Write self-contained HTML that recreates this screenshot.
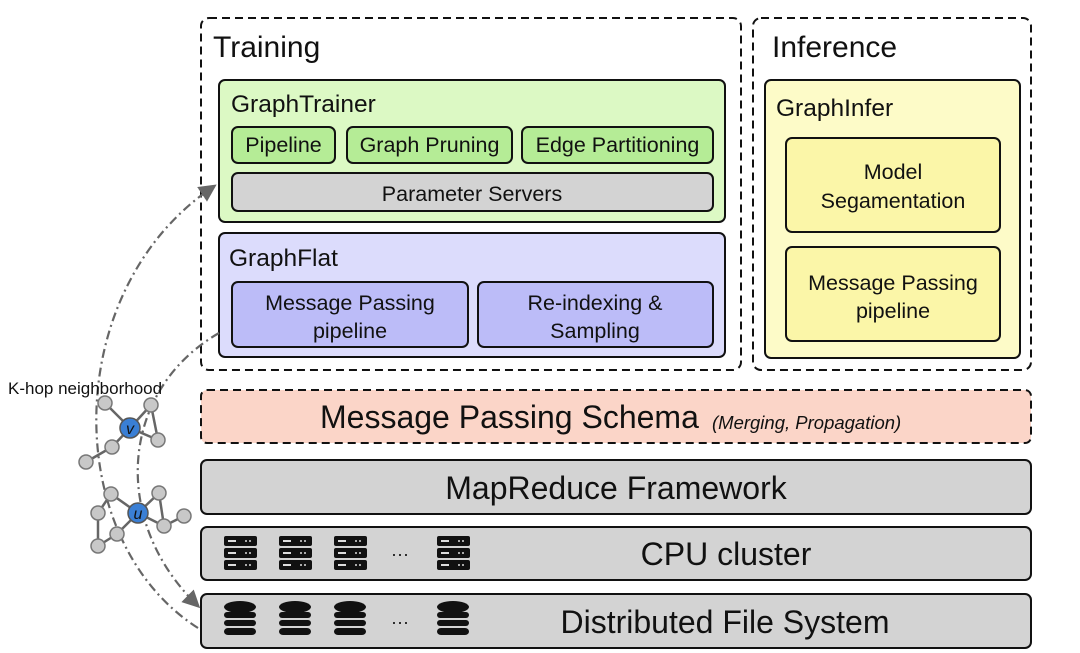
<!DOCTYPE html>
<html><head><style>body{margin:0;background:#fff}svg{display:block}text{font-family:"Liberation Sans",sans-serif;fill:#111}</style></head><body>
<svg width="1080" height="653" viewBox="0 0 1080 653">
<defs><marker id="ah" markerWidth="8" markerHeight="8" refX="6" refY="4" orient="auto"><path d="M0,0L8,4L0,8z" fill="#666"/></marker></defs>
<rect x="201" y="18" width="540" height="352" rx="8" fill="none" stroke="#111" stroke-width="2" stroke-dasharray="8,5"/>
<rect x="753" y="18" width="278" height="352" rx="8" fill="none" stroke="#111" stroke-width="2" stroke-dasharray="8,5"/>
<text x="213" y="57" font-size="30">Training</text>
<text x="772" y="57" font-size="30">Inference</text>
<rect x="219" y="80" width="506" height="142" rx="6" fill="#dcf9c4" stroke="#111" stroke-width="2"/>
<text x="231" y="112" font-size="24.5">GraphTrainer</text>
<rect x="232" y="127" width="103" height="36" rx="6" fill="#b5ec96" stroke="#111" stroke-width="2"/>
<rect x="347" y="127" width="165" height="36" rx="6" fill="#b5ec96" stroke="#111" stroke-width="2"/>
<rect x="522" y="127" width="191" height="36" rx="6" fill="#b5ec96" stroke="#111" stroke-width="2"/>
<text x="283.5" y="152" font-size="21.5" text-anchor="middle">Pipeline</text>
<text x="429.5" y="152" font-size="21.5" text-anchor="middle">Graph Pruning</text>
<text x="617.5" y="152" font-size="21.5" text-anchor="middle">Edge Partitioning</text>
<rect x="232" y="173" width="481" height="38" rx="6" fill="#d3d3d3" stroke="#111" stroke-width="2"/>
<text x="472" y="201" font-size="21.5" text-anchor="middle">Parameter Servers</text>
<rect x="219" y="233" width="506" height="124" rx="6" fill="#dcdcfc" stroke="#111" stroke-width="2"/>
<text x="229" y="266" font-size="24.5">GraphFlat</text>
<rect x="232" y="282" width="236" height="65" rx="6" fill="#bcbcf8" stroke="#111" stroke-width="2"/>
<rect x="478" y="282" width="235" height="65" rx="6" fill="#bcbcf8" stroke="#111" stroke-width="2"/>
<text x="350" y="310" font-size="21.5" text-anchor="middle">Message Passing</text>
<text x="350" y="338" font-size="21.5" text-anchor="middle">pipeline</text>
<text x="595" y="310" font-size="21.5" text-anchor="middle">Re-indexing &amp;</text>
<text x="595" y="338" font-size="21.5" text-anchor="middle">Sampling</text>
<rect x="765" y="80" width="255" height="278" rx="6" fill="#fdfbc8" stroke="#111" stroke-width="2"/>
<text x="776" y="116" font-size="24.5">GraphInfer</text>
<rect x="786" y="138" width="214" height="94" rx="6" fill="#fbf6a8" stroke="#111" stroke-width="2"/>
<rect x="786" y="247" width="214" height="94" rx="6" fill="#fbf6a8" stroke="#111" stroke-width="2"/>
<text x="893" y="179" font-size="21.5" text-anchor="middle">Model</text>
<text x="893" y="208" font-size="21.5" text-anchor="middle">Segamentation</text>
<text x="893" y="290" font-size="21.5" text-anchor="middle">Message Passing</text>
<text x="893" y="318" font-size="21.5" text-anchor="middle">pipeline</text>
<rect x="201" y="390" width="830" height="53" rx="6" fill="#fbd5c8" stroke="#111" stroke-width="2" stroke-dasharray="8,5"/>
<text x="320" y="428" font-size="32">Message Passing Schema</text>
<text x="712" y="429" font-size="18.5" font-style="italic">(Merging, Propagation)</text>
<rect x="201" y="460" width="830" height="54" rx="6" fill="#d3d3d3" stroke="#111" stroke-width="2"/>
<text x="616" y="499" font-size="32" text-anchor="middle">MapReduce Framework</text>
<rect x="201" y="527" width="830" height="53" rx="6" fill="#d3d3d3" stroke="#111" stroke-width="2"/>
<text x="726" y="565" font-size="32" text-anchor="middle">CPU cluster</text>
<rect x="201" y="594" width="830" height="54" rx="6" fill="#d3d3d3" stroke="#111" stroke-width="2"/>
<text x="725" y="633" font-size="32" text-anchor="middle">Distributed File System</text>
<g>
<g id="srv"><rect x="224" y="536" width="33" height="10" rx="2" fill="#111"/><rect x="224" y="548" width="33" height="10" rx="2" fill="#111"/><rect x="224" y="560" width="33" height="10" rx="2" fill="#111"/>
<g fill="#ddd"><rect x="228" y="540" width="8" height="2"/><rect x="228" y="552" width="8" height="2"/><rect x="228" y="564" width="8" height="2"/><circle cx="246" cy="541" r="1"/><circle cx="250" cy="541" r="1"/><circle cx="246" cy="553" r="1"/><circle cx="250" cy="553" r="1"/><circle cx="246" cy="565" r="1"/><circle cx="250" cy="565" r="1"/></g></g>
<use href="#srv" x="55"/><use href="#srv" x="110"/><use href="#srv" x="213"/>
<g id="db" fill="#111"><ellipse cx="240" cy="607" rx="16" ry="6"/><rect x="224" y="612" width="32" height="6" rx="3"/><rect x="224" y="620" width="32" height="6" rx="3"/><rect x="224" y="628" width="32" height="7" rx="4"/></g>
<use href="#db" x="55"/><use href="#db" x="110"/><use href="#db" x="213"/>
</g>
<text x="400" y="560" font-size="18" text-anchor="middle">···</text>
<text x="400" y="628" font-size="18" text-anchor="middle">···</text>
<path d="M198,628 C60,540 60,290 213,187" fill="none" stroke="#666" stroke-width="2.2" stroke-dasharray="9,4,2,4" marker-end="url(#ah)"/>
<path d="M219,333 C120,390 110,520 197,605" fill="none" stroke="#666" stroke-width="2.2" stroke-dasharray="9,4,2,4" marker-end="url(#ah)"/>
<text x="8" y="394" font-size="17">K-hop neighborhood</text>
<g stroke="#666" stroke-width="2.5">
<line x1="130" y1="428" x2="105" y2="403"/><line x1="130" y1="428" x2="151" y2="405"/><line x1="130" y1="428" x2="158" y2="440"/><line x1="130" y1="428" x2="112" y2="447"/><line x1="112" y1="447" x2="86" y2="462"/><line x1="151" y1="405" x2="158" y2="440"/>
<line x1="138" y1="513" x2="111" y2="494"/><line x1="138" y1="513" x2="159" y2="493"/><line x1="138" y1="513" x2="164" y2="526"/><line x1="164" y1="526" x2="184" y2="516"/><line x1="159" y1="493" x2="164" y2="526"/><line x1="138" y1="513" x2="117" y2="534"/><line x1="117" y1="534" x2="98" y2="546"/><line x1="98" y1="546" x2="98" y2="513"/><line x1="98" y1="513" x2="111" y2="494"/>
</g>
<g fill="#c8c8c8" stroke="#777" stroke-width="1.5">
<circle cx="105" cy="403" r="7"/><circle cx="151" cy="405" r="7"/><circle cx="158" cy="440" r="7"/><circle cx="112" cy="447" r="7"/><circle cx="86" cy="462" r="7"/>
<circle cx="111" cy="494" r="7"/><circle cx="159" cy="493" r="7"/><circle cx="184" cy="516" r="7"/><circle cx="164" cy="526" r="7"/><circle cx="117" cy="534" r="7"/><circle cx="98" cy="513" r="7"/><circle cx="98" cy="546" r="7"/>
</g>
<circle cx="130" cy="428" r="10" fill="#3a7fd5" stroke="#555" stroke-width="1.5"/>
<circle cx="138" cy="513" r="10" fill="#3a7fd5" stroke="#555" stroke-width="1.5"/>
<text x="130" y="434" font-size="16" font-style="italic" text-anchor="middle" font-family="Liberation Serif">v</text>
<text x="138" y="519" font-size="16" font-style="italic" text-anchor="middle" font-family="Liberation Serif">u</text>
</svg>
</body></html>
